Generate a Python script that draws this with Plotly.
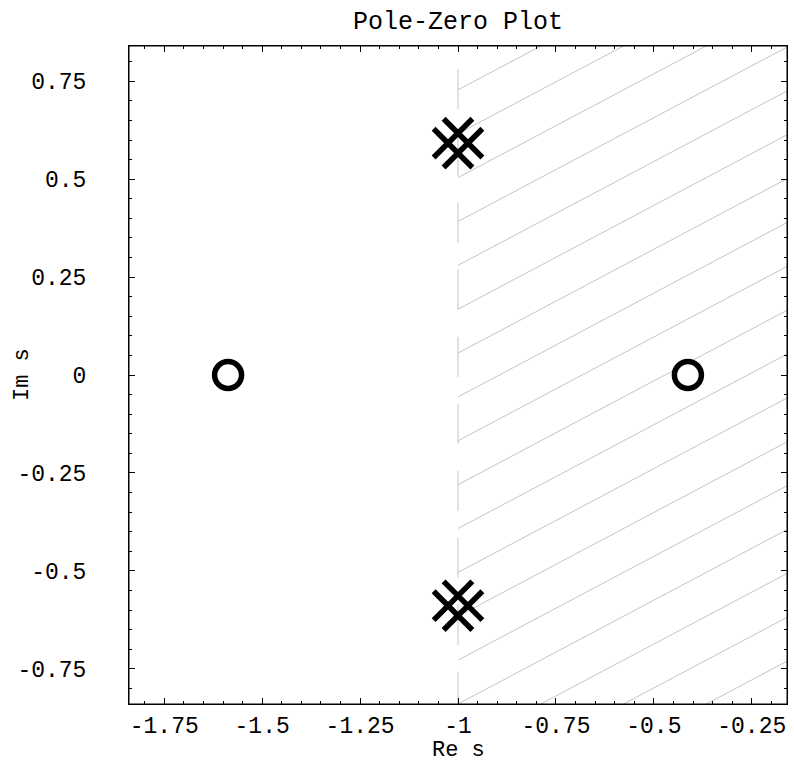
import numpy as np
import plotly.graph_objects as go

# ---- data ----
zeros_re = [-1.587, -0.413]
zeros_im = [0.0, 0.0]
poles_re = [-1.0, -1.0]
poles_im = [0.592, -0.589]
stability_boundary = -1.0          # hatched region lies to the right of this

x_range = [-1.84, -0.16]
y_range = [-0.84, 0.84]
x_tickvals = [-1.75, -1.5, -1.25, -1.0, -0.75, -0.5, -0.25]
x_ticktext = ["-1.75", "-1.5", "-1.25", "-1", "-0.75", "-0.5", "-0.25"]
y_tickvals = [-0.75, -0.5, -0.25, 0.0, 0.25, 0.5, 0.75]
y_ticktext = ["-0.75", "-0.5", "-0.25", "0", "0.25", "0.5", "0.75"]

# ---- style constants ----
FONT = "Liberation Mono"
HATCH_COLOR = "rgb(196,196,196)"
hatch_step = 0.112     # vertical spacing of hatch lines (data units)
hatch_slope = 0.53
pole_half = 0.07       # half length of each pole stroke
pole_sep = 0.018       # half separation of the parallel strokes

fig = go.Figure()

# hatch lines in the region right of the boundary
hx, hy = [], []
x_end = x_range[1] + 0.2
for k in range(-20, 20):
    y0 = y_range[0] + k * hatch_step
    hx += [stability_boundary, x_end, None]
    hy += [y0, y0 + hatch_slope * (x_end - stability_boundary), None]
fig.add_trace(go.Scatter(x=hx, y=hy, mode="lines",
                         line=dict(color=HATCH_COLOR, width=1),
                         hoverinfo="skip", showlegend=False))

# dashed boundary line
fig.add_trace(go.Scatter(x=[stability_boundary, stability_boundary],
                         y=[y_range[0] - 0.02, y_range[1]], mode="lines",
                         line=dict(color=HATCH_COLOR, width=1, dash="40px,27px"),
                         hoverinfo="skip", showlegend=False))

# zeros
fig.add_trace(go.Scatter(x=zeros_re, y=zeros_im, mode="markers",
                         marker=dict(symbol="circle-open", size=27, color="black",
                                     line=dict(color="black", width=5.5)),
                         showlegend=False))

# poles (double poles drawn as crossed pairs of strokes)
px, py = [], []
s2 = np.sqrt(0.5)
for cx, cy in zip(poles_re, poles_im):
    for ux, uy in [(s2, s2), (s2, -s2)]:
        nx, ny = -uy, ux
        for sgn in (-1, 1):
            mx = cx + sgn * pole_sep * nx
            my = cy + sgn * pole_sep * ny
            px += [mx - pole_half * ux, mx + pole_half * ux, None]
            py += [my - pole_half * uy, my + pole_half * uy, None]
fig.add_trace(go.Scatter(x=px, y=py, mode="lines",
                         line=dict(color="black", width=5.5),
                         hoverinfo="skip", showlegend=False))

axis_common = dict(
    showgrid=False, zeroline=False, showline=True, linecolor="black",
    linewidth=1, mirror="all", ticks="inside", ticklen=6, tickwidth=1,
    tickcolor="black", tickfont=dict(family=FONT, size=23, color="black"),
    tickmode="array",
    minor=dict(ticks="inside", ticklen=3, tickwidth=1, tickcolor="black",
               tickmode="linear", tick0=0, dtick=0.05, showgrid=False),
)

fig.update_layout(
    width=794, height=764,
    margin=dict(l=129, r=7, t=46, b=60),
    paper_bgcolor="white", plot_bgcolor="white",
    title=dict(text="Pole-Zero Plot", font=dict(family=FONT, size=25, color="black"),
               x=0.5, xref="paper", xanchor="center",
               y=1 - 20 / 764, yref="container", yanchor="middle"),
    xaxis=dict(range=x_range, tickvals=x_tickvals, ticktext=x_ticktext,
               ticklabelstandoff=0, **axis_common),
    yaxis=dict(range=y_range, tickvals=y_tickvals, ticktext=y_ticktext,
               ticklabelstandoff=37, **axis_common),
    shapes=[dict(type="rect", xref="paper", yref="paper", x0=0, y0=0, x1=1, y1=1,
                 line=dict(color="black", width=1), layer="above")],
    annotations=[
        dict(text="Re s", xref="paper", yref="paper", x=0.5, y=-(750 - 704) / 658,
             xanchor="center", yanchor="middle", showarrow=False,
             font=dict(family=FONT, size=22, color="black")),
        dict(text="Im s", xref="paper", yref="paper", x=(22 - 129) / 658, y=0.5,
             xanchor="center", yanchor="middle", showarrow=False, textangle=-90,
             font=dict(family=FONT, size=22, color="black")),
    ],
)

fig.write_html("out.html")
